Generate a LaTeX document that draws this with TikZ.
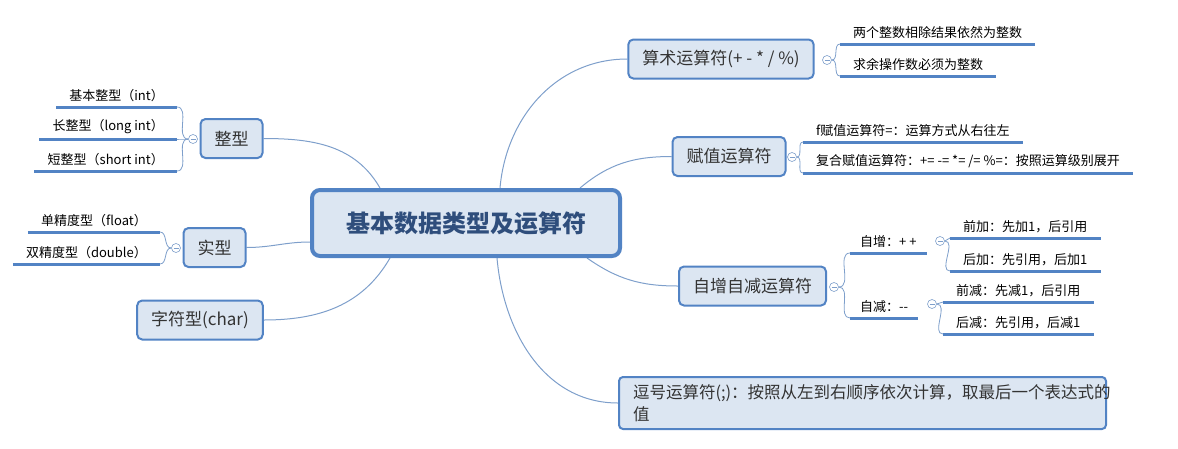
\documentclass[tikz,border=0pt]{standalone}
\usepackage{fontspec}
\setmainfont{Noto Sans CJK SC}
\usepackage{tikz}
\usetikzlibrary{positioning,calc,backgrounds}
\usepackage{xcolor}
\definecolor{TopicBlue}{HTML}{5283C4}
\definecolor{BoxFill}{HTML}{DCE6F2}
\definecolor{LinkBlue}{HTML}{7E9FCB}
\definecolor{TitleBlue}{HTML}{2F4E7C}
\definecolor{TextGray}{HTML}{333333}

\begin{document}
\begin{tikzpicture}[x=1pt, y=-1pt,
    central/.style={draw=TopicBlue, fill=BoxFill, line width=4pt, rounded corners=8pt, minimum width=308pt, minimum height=66pt, font=\fontsize{24}{28}\selectfont\bfseries, text=TitleBlue},
    box/.style={draw=TopicBlue, fill=BoxFill, line width=2pt, rounded corners=5pt, inner xsep=14pt, minimum height=39pt, font=\fontsize{17}{20}\selectfont, text=TextGray},
    leaf/.style={inner xsep=13pt, inner ysep=5pt, font=\fontsize{13}{15}\selectfont, text=black},
    fold/.style={circle, draw=LinkBlue, fill=white, line width=0.6pt, minimum size=9pt, inner sep=0pt,
      path picture={\draw[LinkBlue, line width=0.6pt] ([xshift=2pt]path picture bounding box.west) -- ([xshift=-2pt]path picture bounding box.east);}},
    link/.style={draw=LinkBlue, line width=1pt},
    twig/.style={draw=LinkBlue, line width=0.8pt},
    uline/.style={draw=TopicBlue, line width=3pt}
  ]
    \useasboundingbox (0,0) rectangle (1178,448);

    % topics
    \node[central] (cen) at (466,223) {基本数据类型及运算符};
    \node[box] (zx) at (231.5,138.5) {整型};
    \node[box] (sx) at (214.5,247.5) {实型};
    \node[box] (chr) at (200,320) {字符型(char)};
    \node[box] (arith) at (721,59) {算术运算符(+ - * / \%)};
    \node[box] (asg) at (729,156.5) {赋值运算符};
    \node[box] (incdec) at (752.5,286) {自增自减运算符};
    \node[box, text width=459pt, align=left, minimum height=52pt, rounded corners=4pt, font=\fontsize{16.5}{22}\selectfont] (comma) at (862.5,403)
      {逗号运算符(;)：按照从左到右顺序依次计算，取最后一个表达式的\\值};

    % fold marks
    \node[fold] (fZx) at (193,139) {};
    \node[fold] (fSx) at (176,248) {};
    \node[fold] (fArith) at (827,60) {};
    \node[fold] (fAsg) at (792,157) {};
    \node[fold] (fIncdec) at (834,287) {};
    \node[fold] (fInc) at (940,241) {};
    \node[fold] (fDec) at (932,304) {};

    % leaves
    \node[leaf, anchor=south east] (tInt) at (177,107) {基本整型（int）};
    \node[leaf, anchor=south east] (tLong) at (177,139) {长整型（long int）};
    \node[leaf, anchor=south east] (tShort) at (177,171) {短整型（short int）};
    \node[leaf, anchor=south east] (tFloat) at (160,232) {单精度型（float）};
    \node[leaf, anchor=south east] (tDouble) at (160,264) {双精度型（double）};
    \node[leaf, anchor=south west] (tDiv) at (840,44) {两个整数相除结果依然为整数};
    \node[leaf, anchor=south west] (tMod) at (840,76) {求余操作数必须为整数};
    \node[leaf, anchor=south west] (tSet) at (803,142) {f赋值运算符=：运算方式从右往左};
    \node[leaf, anchor=south west] (tComp) at (803,173) {复合赋值运算符：+= {-}= *= /= \%=：按照运算级别展开};
    \node[leaf, anchor=south west, inner xsep=10pt] (tInc) at (850,253) {自增：+ +};
    \node[leaf, anchor=south west, inner xsep=10pt] (tDec) at (850,318) {自减：{-}{-}};
    \node[leaf, anchor=south west] (tPreInc) at (950,238) {前加：先加1，后引用};
    \node[leaf, anchor=south west] (tPostInc) at (950,271) {后加：先引用，后加1};
    \node[leaf, anchor=south west] (tPreDec) at (943,302) {前减：先减1，后引用};
    \node[leaf, anchor=south west] (tPostDec) at (943,334) {后减：先引用，后减1};

    \foreach \n in {tInt,tLong,tShort,tFloat,tDouble,tDiv,tMod,tSet,tComp,tInc,tDec,tPreInc,tPostInc,tPreDec,tPostDec}
      \draw[uline] (\n.south west) -- (\n.south east);

    \begin{scope}[on background layer]
      \draw[link] ([xshift=-86pt]cen.north) to[out=120, in=0] (zx.east);
      \draw[link] ([yshift=-19pt]cen.west) to[out=180, in=0] (sx.east);
      \draw[link] ([xshift=-76pt]cen.south) to[out=-120, in=0] (chr.east);
      \draw[link] ([xshift=34pt]cen.north) to[out=85, in=180] (arith.west);
      \draw[link] ([xshift=114pt]cen.north) to[out=40, in=180] (asg.west);
      \draw[link] ([xshift=121pt]cen.south) to[out=-35, in=180] (incdec.west);
      \draw[link] ([xshift=31pt]cen.south) to[out=-85, in=180] (comma.west);

      \foreach \a/\b in {fZx/tInt,fZx/tLong,fZx/tShort,fSx/tFloat,fSx/tDouble}
        \draw[twig] (\a.west) to[out=180, in=0] (\b.south east);
      \foreach \a/\b in {fArith/tDiv,fArith/tMod,fAsg/tSet,fAsg/tComp,fIncdec/tInc,fIncdec/tDec,fInc/tPreInc,fInc/tPostInc,fDec/tPreDec,fDec/tPostDec}
        \draw[twig] (\a.east) to[out=0, in=180] (\b.south west);
    \end{scope}
  \end{tikzpicture}
\end{document}
